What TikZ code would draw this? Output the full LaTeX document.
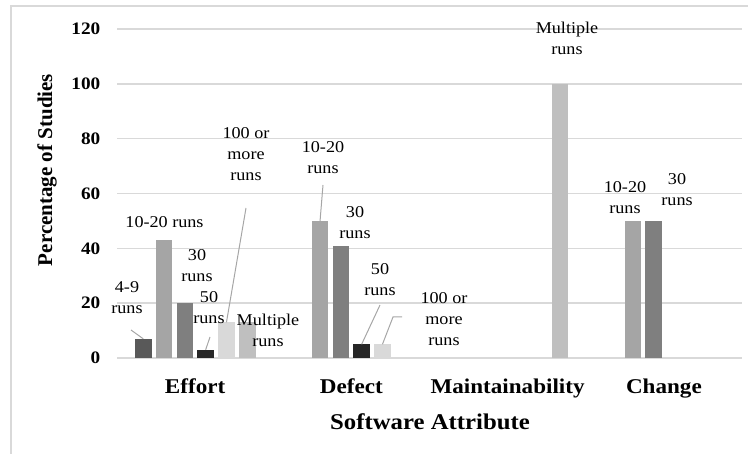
\documentclass[tikz,border=0pt]{standalone}
\usepackage{fontspec}
\setmainfont{Liberation Serif}[FakeStretch=1.1]
\newfontfamily\titlefont{Liberation Serif}
\definecolor{gridgray}{HTML}{D9D9D9}
\definecolor{leadgray}{HTML}{A6A6A6}
\definecolor{barA}{HTML}{595959}
\definecolor{barB}{HTML}{A5A5A5}
\definecolor{barC}{HTML}{7F7F7F}
\definecolor{barD}{HTML}{262626}
\definecolor{barE}{HTML}{D9D9D9}
\definecolor{barF}{HTML}{BFBFBF}
\tikzset{
  bar/.style={draw=none, inner sep=0pt, outer sep=0pt, minimum width=16.5bp, anchor=south west},
  lbl/.style={inner sep=0pt, align=center, font=\fontsize{16.5bp}{21bp}\selectfont},
  tick/.style={inner sep=0pt, anchor=east, font=\fontsize{17.5bp}{19bp}\selectfont\bfseries},
  cat/.style={inner sep=0pt, anchor=base, font=\fontsize{21bp}{24bp}\selectfont\bfseries},
  leader/.style={draw=leadgray, line width=1bp},
  grid/.style={draw=gridgray, line width=1.5bp},
}
% value -> height in bp (2.742 bp per percent)
\newcommand{\hv}[1]{\fpeval{#1*2.742}bp}
\begin{document}
\begin{tikzpicture}[x=1bp, y=-1bp]
\useasboundingbox (0,0) rectangle (752,454);
% outer frame
\draw[grid] (11,454) -- (11,6) -- (748,6);
% horizontal grid lines and tick labels
\foreach \v/\yy in {0/358,20/303.2,40/248.3,60/193.5,80/138.6,100/83.8,120/29}{
  \draw[grid] (117,\yy) -- (742,\yy);
  \node[tick] (t\v) at (100.5,\yy) {\v};
}
% Effort
\node[bar, fill=barA, minimum height=\hv{7}]  (e1) at (135,358) {};
\node[bar, fill=barB, minimum height=\hv{43}] (e2) at (155.8,358) {};
\node[bar, fill=barC, minimum height=\hv{20}] (e3) at (176.6,358) {};
\node[bar, fill=barD, minimum height=\hv{3}]  (e4) at (197.4,358) {};
\node[bar, fill=barE, minimum height=\hv{13}] (e5) at (218.2,358) {};
\node[bar, fill=barF, minimum height=\hv{13}] (e6) at (239,358) {};
% Defect
\node[bar, fill=barB, minimum height=\hv{50}] (d2) at (311.8,358) {};
\node[bar, fill=barC, minimum height=\hv{41}] (d3) at (332.6,358) {};
\node[bar, fill=barD, minimum height=\hv{5}]  (d4) at (353.4,358) {};
\node[bar, fill=barE, minimum height=\hv{5}]  (d5) at (374.2,358) {};
% Maintainability
\node[bar, fill=barF, minimum height=\hv{100}] (m6) at (551.5,358) {};
% Change
\node[bar, fill=barB, minimum height=\hv{50}] (c2) at (624.5,358) {};
\node[bar, fill=barC, minimum height=\hv{50}] (c3) at (645.3,358) {};
% data labels
\node[lbl] (le1) at (127,298) {4-9\\runs};
\node[lbl] (le2) at (164.5,222) {10-20 runs};
\node[lbl] (le3) at (197,266) {30\\runs};
\node[lbl] (le4) at (209,308) {50\\runs};
\node[lbl] (le5) at (246,154) {100 or\\more\\runs};
\node[lbl] (le6) at (268,330) {Multiple\\runs};
\node[lbl] (ld2) at (323,157.5) {10-20\\runs};
\node[lbl] (ld3) at (355,222.5) {30\\runs};
\node[lbl] (ld4) at (380,280) {50\\runs};
\node[lbl] (ld5) at (444,319) {100 or\\more\\runs};
\node[lbl] (lm6) at (567,38.5) {Multiple\\runs};
\node[lbl] (lc2) at (625,198) {10-20\\runs};
\node[lbl] (lc3) at (677,189.5) {30\\runs};
% leader lines
\coordinate (pe1) at (131,330);
\coordinate (pe4) at (210,337);
\coordinate (pe5) at (246,208);
\coordinate (pd2) at (323,185);
\coordinate (pd4) at (380,305);
\coordinate (pd5a) at (402,317);
\coordinate (pd5b) at (393,317);
\draw[leader] (pe1) -- (e1.north);
\draw[leader] (pe4) -- (e4.north);
\draw[leader] (pe5) -- (e5.north);
\draw[leader] (pd2) -- (d2.north);
\draw[leader] (pd4) -- (d4.north);
\draw[leader] (pd5a) -- (pd5b) -- (d5.north);
% category labels
\node[cat] (ce) at (195.1,393) {Effort};
\node[cat] (cd) at (351.4,393) {Defect};
\node[cat] (cm) at (507.6,393) {Maintainability};
\node[cat] (cc) at (663.9,393) {Change};
% axis titles
\node[inner sep=0pt, font=\fontsize{22.5bp}{26bp}\selectfont\bfseries, anchor=base] (xt) at (430,429) {Software Attribute};
\node[inner sep=0pt, font=\titlefont\fontsize{21bp}{24bp}\selectfont\bfseries, rotate=90] (yt) at (47,170) {Percentage of Studies};
\end{tikzpicture}
\end{document}
